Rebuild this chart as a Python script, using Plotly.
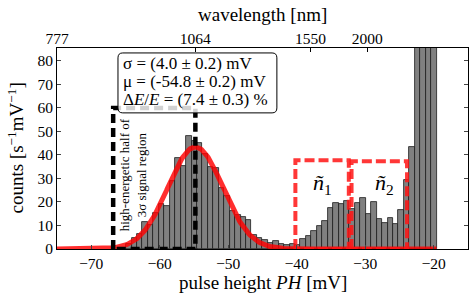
import plotly.graph_objects as go
import math

# ---- data ----
bin_start = -65.7
bin_width = 0.795
counts = [0.5, 2.0, 4.8, 6.4, 11.6, 10.2, 15.5, 19.0, 18.3, 28.9,
          38.6, 35.3, 48.0, 46.0, 45.2, 40.4, 34.9, 34.6, 26.0, 22.5,
          16.0, 14.6, 13.5, 12.2, 6.0, 4.8, 4.0, 2.6, 3.2, 2.0,
          1.7, 2.1, 1.5, 4.4, 5.5, 7.7, 9.8, 11.8, 17.5, 19.4,
          19.0, 20.3, 17.1, 19.4, 21.5, 15.0, 20.1, 12.9, 11.2, 13.3,
          10.7, 16.6, 29.4, 43.6, 120.0, 200.0, 260.0, 300.0]
centers = [bin_start + (k + 0.5) * bin_width for k in range(len(counts))]

fit_mu = -54.8
fit_sigma = 4.0
fit_amp = 43.4
fit_range = [-75.0, -19.6]

signal_box = {"x0": -66.8, "x1": -54.8, "top": 60.0}
n1_box = {"x0": -40.2, "x1": -32.4, "top": 37.8}
n2_box = {"x0": -32.0, "x1": -23.9, "top": 37.3}

wl_tick_pos = [-75.0, -54.8, -38.0, -29.7]
wl_tick_labels = ["777", "1064", "1550", "2000"]

x_ticks = [-70, -60, -50, -40, -30, -20]
y_ticks = [0, 10, 20, 30, 40, 50, 60, 70, 80]

fit_lines = ["σ = (4.0 ± 0.2) mV",
             "μ = (-54.8 ± 0.2) mV",
             "Δ<i>E</i>/<i>E</i> = (7.4 ± 0.3) %"]
fit_line_y = [79.0, 71.2, 63.4]

n_pts = 400
fx = [fit_range[0] + (fit_range[1] - fit_range[0]) * i / (n_pts - 1) for i in range(n_pts)]
fy = [fit_amp * math.exp(-0.5 * ((v - fit_mu) / fit_sigma) ** 2) for v in fx]

FONT = "Liberation Serif"
BLK = "black"


def fnt(size):
    return dict(family=FONT, size=size, color=BLK)


fig = go.Figure()
fig.add_trace(go.Bar(x=centers, y=counts, width=bin_width,
                     marker=dict(color="#808080", line=dict(color="#1a1a1a", width=0.8)),
                     showlegend=False, hoverinfo="skip"))
fig.add_trace(go.Scatter(x=fx, y=fy, mode="lines",
                         line=dict(color="rgba(255,0,0,0.82)", width=5),
                         showlegend=False, hoverinfo="skip"))


def box_trace(b, color, dash, width):
    return go.Scatter(x=[b["x0"], b["x0"], b["x1"], b["x1"], b["x0"]],
                      y=[0, b["top"], b["top"], 0, 0], mode="lines",
                      line=dict(color=color, width=width, dash=dash),
                      showlegend=False, hoverinfo="skip")


fig.add_trace(box_trace(n1_box, "rgba(255,20,20,0.85)", "10px,4px", 4))
fig.add_trace(box_trace(n2_box, "rgba(255,20,20,0.85)", "10px,4px", 4))
fig.add_trace(box_trace(signal_box, "black", "9px,5px", 4.5))

# invisible trace to carry the top (wavelength) axis
fig.add_trace(go.Scatter(x=wl_tick_pos, y=[0] * len(wl_tick_pos), xaxis="x2",
                         mode="markers", marker=dict(opacity=0, size=1), showlegend=False,
                         hoverinfo="skip"))

# rounded text box
bx0, bx1, by0, by1 = -66.1, -42.9, 57.9, 83.4
rx, ry = 0.7, 2.1
path = (f"M {bx0+rx},{by0} L {bx1-rx},{by0} Q {bx1},{by0} {bx1},{by0+ry} "
        f"L {bx1},{by1-ry} Q {bx1},{by1} {bx1-rx},{by1} L {bx0+rx},{by1} "
        f"Q {bx0},{by1} {bx0},{by1-ry} L {bx0},{by0+ry} Q {bx0},{by0} {bx0+rx},{by0} Z")
fig.add_shape(type="path", path=path, xref="x", yref="y", layer="above",
              fillcolor="rgba(255,255,255,0.82)", line=dict(color="black", width=1))

for txt, yy in zip(fit_lines, fit_line_y):
    fig.add_annotation(x=-65.6, y=yy, xref="x", yref="y", xanchor="left", yanchor="middle",
                       align="left", showarrow=False, text=txt, font=fnt(17))

fig.add_annotation(x=-63.85, y=31.5, xref="x", yref="y", textangle=-90, showarrow=False,
                   text="high-energetic half of<br>3σ signal region", font=fnt(13))
fig.add_annotation(x=-36.2, y=27.7, xref="x", yref="y", showarrow=False,
                   text="<i>ñ</i><sub>1</sub>", font=fnt(22))
fig.add_annotation(x=-27.2, y=27.7, xref="x", yref="y", showarrow=False,
                   text="<i>ñ</i><sub>2</sub>", font=fnt(22))

# axis titles as annotations
fig.add_annotation(x=0.5, y=0, xref="paper", yref="paper", yshift=-33, showarrow=False,
                   xanchor="center", yanchor="middle",
                   text="pulse height <i>PH</i> [mV]", font=fnt(19))
fig.add_annotation(x=0.5, y=1, xref="paper", yref="paper", yshift=34, showarrow=False,
                   xanchor="center", yanchor="middle",
                   text="wavelength [nm]", font=fnt(19))
fig.add_annotation(x=0, y=0.5, xref="paper", yref="paper", xshift=-42, showarrow=False,
                   xanchor="center", yanchor="middle", textangle=-90,
                   text="counts [s<sup>−1</sup>mV<sup>−1</sup>]", font=fnt(19))

fig.update_layout(
    width=473, height=296,
    margin=dict(l=57, r=5, t=48, b=47, autoexpand=False),
    paper_bgcolor="white", plot_bgcolor="white",
    bargap=0,
    font=fnt(15.5),
    xaxis=dict(range=[-75, -15], tickvals=x_ticks, ticks="inside", ticklen=4,
               showline=True, linecolor=BLK, linewidth=1, mirror=True,
               showgrid=False, zeroline=False, automargin=False,
               tickfont=fnt(15.5)),
    xaxis2=dict(range=[-75, -15], overlaying="x", side="top", anchor="y",
                tickvals=wl_tick_pos, ticktext=wl_tick_labels, ticks="inside", ticklen=4,
                tickcolor=BLK, showgrid=False, zeroline=False, showline=False,
                automargin=False, tickfont=fnt(15.5)),
    yaxis=dict(range=[0, 85.5], tickvals=y_ticks, ticks="inside", ticklen=4,
               showline=True, linecolor=BLK, linewidth=1, mirror="ticks",
               showgrid=False, zeroline=False, automargin=False,
               tickfont=fnt(15.5)),
)

fig.write_html("out.html", config={"displayModeBar": False},
               post_script="document.body.style.margin='0px';document.body.style.overflow='hidden';")
